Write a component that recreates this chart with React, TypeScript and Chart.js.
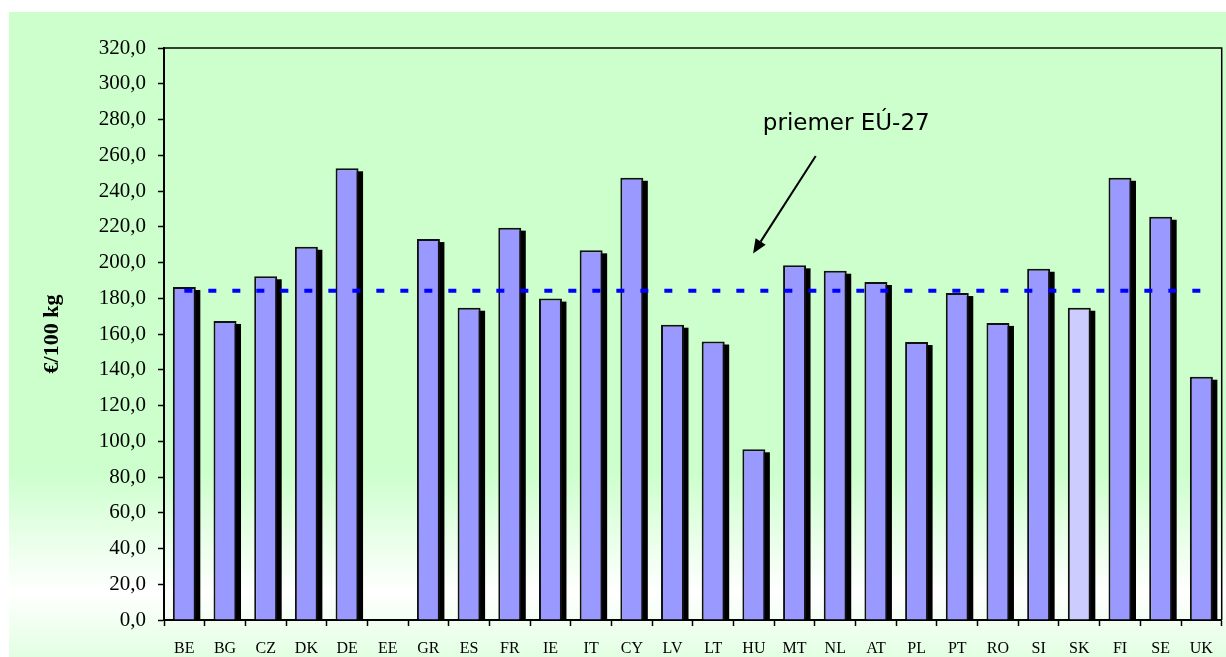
import React, { useEffect, useRef } from "react";
import { Chart, registerables } from "chart.js";

Chart.register(...registerables);

// ---- data ----
const CATEGORIES = [
  "BE", "BG", "CZ", "DK", "DE", "EE", "GR", "ES", "FR", "IE", "IT", "CY", "LV",
  "LT", "HU", "MT", "NL", "AT", "PL", "PT", "RO", "SI", "SK", "FI", "SE", "UK",
];
const VALUES: (number | null)[] = [
  186.3, 167.3, 192.3, 208.8, 252.7, null, 213.1, 174.7, 219.5, 179.8, 206.8, 247.4, 165.2,
  155.8, 95.5, 198.4, 195.4, 189.1, 155.5, 182.9, 166.2, 196.5, 174.7, 247.4, 225.6, 136.1,
];
const HIGHLIGHT = "SK";
const EU_AVERAGE = 184.2;
const Y_TICK_LABELS = [
  "0,0", "20,0", "40,0", "60,0", "80,0", "100,0", "120,0", "140,0", "160,0",
  "180,0", "200,0", "220,0", "240,0", "260,0", "280,0", "300,0", "320,0",
];
const Y_MIN = 0;
const Y_MAX = 320;
const Y_STEP = 20;
const Y_TITLE = "€/100 kg";

// annotation (in data coordinates: category index, value)
const NOTE_TEXT = "priemer EÚ-27";
const NOTE_TEXT_AT = [14.22, 274.1];
const ARROW_FROM = [15.52, 259.6];
const ARROW_TO = [13.98, 205.1];

const BAR_COLOR = "#9999FF";
const HIGHLIGHT_COLOR = "#CCCCFF";

const shadowPlugin = {
  id: "barShadow",
  beforeDatasetsDraw(chart: any) {
    const ctx = chart.ctx;
    const area = chart.chartArea;
    const meta = chart.getDatasetMeta(0);
    ctx.save();
    ctx.beginPath();
    ctx.rect(area.left, area.top, area.right - area.left, area.bottom - area.top);
    ctx.clip();
    ctx.fillStyle = "#000000";
    meta.data.forEach((el: any, i: number) => {
      if (VALUES[i] === null) return;
      const { x, y, base, width } = el.getProps(["x", "y", "base", "width"], true);
      if (!isFinite(y)) return;
      const left = x - width / 2 + 4.5;
      const top = Math.min(y, base) + 3;
      const h = Math.abs(base - y);
      ctx.fillRect(left, top, width, h);
    });
    ctx.restore();
  },
};

const decorPlugin = {
  id: "decor",
  afterDatasetsDraw(chart: any) {
    const ctx = chart.ctx;
    const xs = chart.scales.x;
    const ys = chart.scales.y;
    const area = chart.chartArea;

    // EU average dashed line
    const yAvg = ys.getPixelForValue(EU_AVERAGE);
    ctx.save();
    ctx.strokeStyle = "#0000FF";
    ctx.lineWidth = 4;
    ctx.setLineDash([8, 16]);
    ctx.beginPath();
    ctx.moveTo(xs.getPixelForValue(0), yAvg);
    ctx.lineTo(xs.getPixelForValue(CATEGORIES.length - 1), yAvg);
    ctx.stroke();
    ctx.restore();

    // plot frame top/right
    ctx.save();
    ctx.strokeStyle = "#000";
    ctx.lineWidth = 1.5;
    ctx.beginPath();
    ctx.moveTo(area.left, area.top);
    ctx.lineTo(area.right, area.top);
    ctx.lineTo(area.right, area.bottom);
    ctx.stroke();
    ctx.restore();

    // arrow
    const x1 = xs.getPixelForValue(ARROW_FROM[0]);
    const y1 = ys.getPixelForValue(ARROW_FROM[1]);
    const x2 = xs.getPixelForValue(ARROW_TO[0]);
    const y2 = ys.getPixelForValue(ARROW_TO[1]);
    const ang = Math.atan2(y2 - y1, x2 - x1);
    const headLen = 14;
    const headHalf = 6;
    const bx = x2 - headLen * Math.cos(ang);
    const by = y2 - headLen * Math.sin(ang);
    ctx.save();
    ctx.strokeStyle = "#000";
    ctx.fillStyle = "#000";
    ctx.lineWidth = 2;
    ctx.beginPath();
    ctx.moveTo(x1, y1);
    ctx.lineTo(bx, by);
    ctx.stroke();
    ctx.beginPath();
    ctx.moveTo(x2, y2);
    ctx.lineTo(bx + headHalf * Math.sin(ang), by - headHalf * Math.cos(ang));
    ctx.lineTo(bx - headHalf * Math.sin(ang), by + headHalf * Math.cos(ang));
    ctx.closePath();
    ctx.fill();

    // annotation text
    ctx.font = '23px "DejaVu Sans"';
    ctx.textAlign = "left";
    ctx.textBaseline = "alphabetic";
    ctx.fillText(
      NOTE_TEXT,
      xs.getPixelForValue(NOTE_TEXT_AT[0]),
      ys.getPixelForValue(NOTE_TEXT_AT[1])
    );
    ctx.restore();
  },
};

export default function App() {
  const canvasRef = useRef<HTMLCanvasElement | null>(null);

  useEffect(() => {
    if (!canvasRef.current) return;
    const colors = CATEGORIES.map((c) => (c === HIGHLIGHT ? HIGHLIGHT_COLOR : BAR_COLOR));
    const chart = new Chart(canvasRef.current, {
      type: "bar",
      data: {
        labels: CATEGORIES,
        datasets: [
          {
            data: VALUES as any,
            backgroundColor: colors,
            borderColor: "#111111",
            borderWidth: 2,
            barPercentage: 0.565,
            categoryPercentage: 1,
          },
        ],
      },
      options: {
        animation: false,
        responsive: true,
        maintainAspectRatio: false,
        layout: { padding: { top: 36, right: 4, bottom: 0, left: 0 } },
        plugins: {
          legend: { display: false },
          tooltip: { enabled: false },
        },
        scales: {
          x: {
            afterFit(scale: any) {
              scale.height = 37;
            },
            grid: {
              offset: true,
              drawOnChartArea: false,
              drawTicks: true,
              tickLength: 6,
              tickWidth: 1.5,
              tickColor: "#000",
            },
            border: { display: true, color: "#000", width: 2 },
            ticks: {
              color: "#000",
              font: { family: '"Liberation Serif"', size: 16 },
              padding: 13,
              maxRotation: 0,
              autoSkip: false,
            },
          },
          y: {
            min: Y_MIN,
            max: Y_MAX,
            afterFit(scale: any) {
              scale.width = 155;
            },
            grid: {
              drawOnChartArea: false,
              drawTicks: true,
              tickLength: 6,
              tickWidth: 1.5,
              tickColor: "#000",
            },
            border: { display: true, color: "#000", width: 2 },
            ticks: {
              stepSize: Y_STEP,
              color: "#000",
              font: { family: '"Liberation Serif"', size: 21 },
              padding: 12,
              callback: (_v: any, i: number) => Y_TICK_LABELS[i],
            },
            title: {
              display: true,
              text: Y_TITLE,
              color: "#000",
              font: { family: '"Liberation Serif"', size: 22, weight: "bold" },
              padding: { top: 30, bottom: 30 },
            },
          },
        },
      },
      plugins: [shadowPlugin, decorPlugin],
    });
    return () => chart.destroy();
  }, []);

  return (
    <div
      style={{
        position: "fixed",
        left: 9,
        top: 12,
        width: 1217,
        height: 645,
        background:
          "linear-gradient(to bottom, #CCFFCC 0%, #CCFFCC 71%, #FFFFFF 90%, #E2FFE2 100%)",
      }}
    >
      <canvas ref={canvasRef} />
    </div>
  );
}
